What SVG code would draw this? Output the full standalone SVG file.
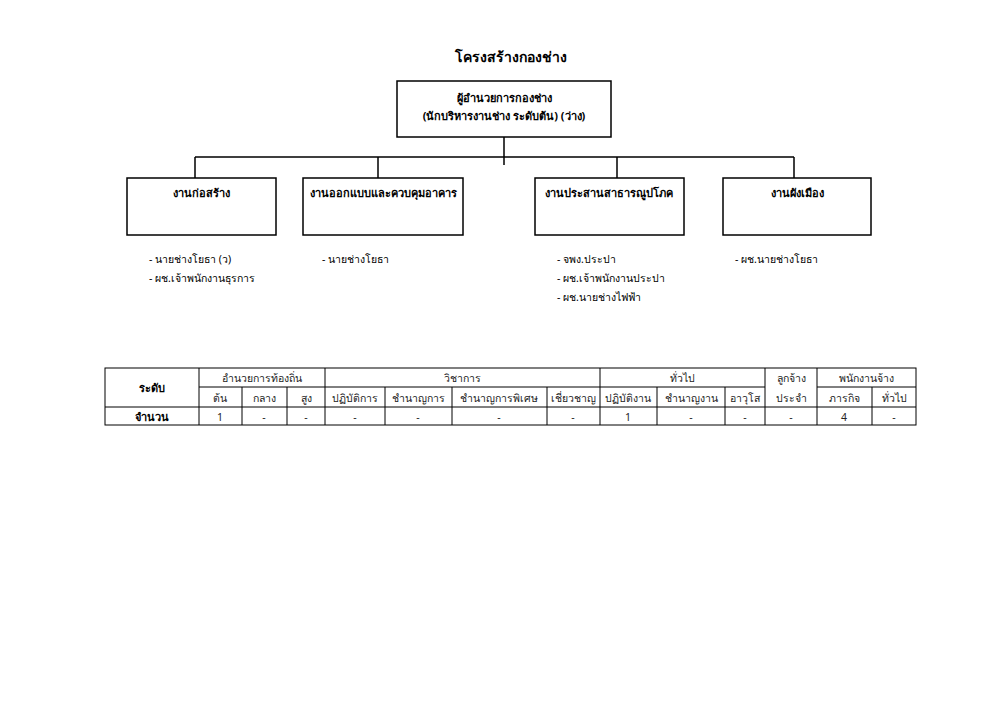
<svg xmlns="http://www.w3.org/2000/svg" width="1000" height="707" viewBox="0 0 1000 707">
<style>
text{font-family:"Noto Sans","DejaVu Sans","Liberation Sans",sans-serif;fill:#000}
.title{font-size:14px;font-weight:bold}
.lbl{font-size:11px;font-weight:bold}
.item{font-size:10.5px}
.tc{font-size:10.5px;text-anchor:middle;fill:#222}
.tb{font-size:11px;font-weight:bold;text-anchor:middle}
.box{fill:#fff;stroke:#000;stroke-width:1.5}
.ln{stroke:#000;stroke-width:1.5;fill:none}
.grid{stroke:#000;stroke-width:1;fill:none}
</style>
<rect width="1000" height="707" fill="#fff"/>
<text class="title" x="511" y="62" text-anchor="middle">โครงสร้างกองช่าง</text>
<g id="connectors">
<path class="ln" d="M504 131V165M195 157H794M195 157V178M378 157V178M617 157V178M794 157V178"/>
</g>
<g id="node-head">
<rect class="box" x="397" y="81" width="214" height="56"/>
<text class="lbl" x="504" y="102" text-anchor="middle">ผู้อำนวยการกองช่าง</text>
<text class="lbl" x="504" y="120" text-anchor="middle">(นักบริหารงานช่าง ระดับต้น) (ว่าง)</text>
</g>
<g id="node-construction">
<rect class="box" x="127" y="178" width="149" height="57"/>
<text class="lbl" x="201" y="197" text-anchor="middle">งานก่อสร้าง</text>
</g>
<g id="node-design">
<rect class="box" x="303" y="178" width="160" height="57"/>
<text class="lbl" x="383" y="197" text-anchor="middle">งานออกแบบและควบคุมอาคาร</text>
</g>
<g id="node-utilities">
<rect class="box" x="535" y="178" width="149" height="57"/>
<text class="lbl" x="609" y="197" text-anchor="middle">งานประสานสาธารณูปโภค</text>
</g>
<g id="node-cityplan">
<rect class="box" x="723" y="178" width="148" height="57"/>
<text class="lbl" x="797" y="197" text-anchor="middle">งานผังเมือง</text>
</g>
<g id="staff">
<text class="item" x="149" y="263">- นายช่างโยธา (ว)</text>
<text class="item" x="149" y="282">- ผช.เจ้าพนักงานธุรการ</text>
<text class="item" x="322" y="263">- นายช่างโยธา</text>
<text class="item" x="557" y="263">- จพง.ประปา</text>
<text class="item" x="557" y="282">- ผช.เจ้าพนักงานประปา</text>
<text class="item" x="557" y="301">- ผช.นายช่างไฟฟ้า</text>
<text class="item" x="735" y="263">- ผช.นายช่างโยธา</text>
</g>
<g id="table">
<rect class="grid" x="105" y="368" width="811" height="57" stroke-width="1.3"/>
<path class="grid" d="M199 387H765M817 387H916M105 407H916M199 368V425M325 368V425M600 368V425M765 368V425M817 368V425M242 387V425M287 387V425M385 387V425M452 387V425M547 387V425M657 387V425M725 387V425M872 387V425"/>
<text class="tb" x="152" y="392">ระดับ</text>
<text class="tb" x="152" y="421">จำนวน</text>
<text class="tc" x="262" y="382">อำนวยการท้องถิ่น</text>
<text class="tc" x="462" y="382">วิชาการ</text>
<text class="tc" x="682" y="382">ทั่วไป</text>
<text class="tc" x="791" y="382">ลูกจ้าง</text>
<text class="tc" x="791" y="402">ประจำ</text>
<text class="tc" x="866" y="382">พนักงานจ้าง</text>
<text class="tc" x="220" y="402">ต้น</text>
<text class="tc" x="264" y="402">กลาง</text>
<text class="tc" x="306" y="402">สูง</text>
<text class="tc" x="355" y="402">ปฏิบัติการ</text>
<text class="tc" x="418" y="402">ชำนาญการ</text>
<text class="tc" x="499" y="402">ชำนาญการพิเศษ</text>
<text class="tc" x="573" y="402">เชี่ยวชาญ</text>
<text class="tc" x="628" y="402">ปฏิบัติงาน</text>
<text class="tc" x="691" y="402">ชำนาญงาน</text>
<text class="tc" x="745" y="402">อาวุโส</text>
<text class="tc" x="844" y="402">ภารกิจ</text>
<text class="tc" x="894" y="402">ทั่วไป</text>
<text class="tc" x="220" y="421">1</text>
<text class="tc" x="264" y="421">-</text>
<text class="tc" x="306" y="421">-</text>
<text class="tc" x="355" y="421">-</text>
<text class="tc" x="418" y="421">-</text>
<text class="tc" x="499" y="421">-</text>
<text class="tc" x="573" y="421">-</text>
<text class="tc" x="628" y="421">1</text>
<text class="tc" x="691" y="421">-</text>
<text class="tc" x="745" y="421">-</text>
<text class="tc" x="791" y="421">-</text>
<text class="tc" x="844" y="421">4</text>
<text class="tc" x="894" y="421">-</text>
</g>
</svg>
